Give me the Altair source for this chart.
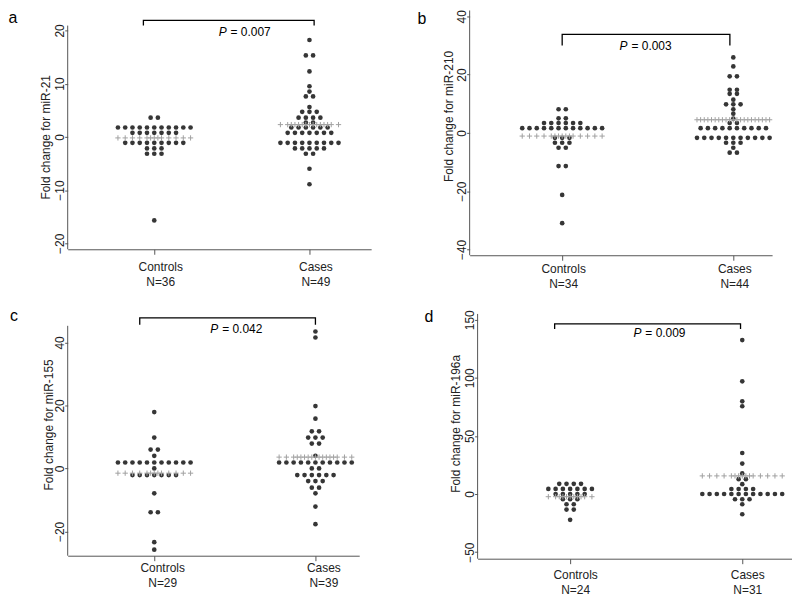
import altair as alt
import pandas as pd

# ------------------------------------------------------------------ data
GROUPS = ["Controls", "Cases"]
MIRNAS = ["miR-21", "miR-210", "miR-155", "miR-196a"]
LETTERS = ["a", "b", "c", "d"]
P_VALUES = ["0.007", "0.003", "0.042", "0.009"]

# panel a  (miR-21)
A_N = [36, 49]
A_CTRL_VALS = [3.6, 1.75, 0.75, -1.12, -2.18, -3.18, -15.7]
A_CTRL_COUNTS = [2, 11, 7, 9, 3, 3, 1]
A_CASE_VALS = [18.2, 15.3, 12.3, 9.5, 8.5, 7.6, 5.6, 4.7, 3.6, 2.7, 1.75, 0.75,
               -1.12, -2.18, -3.18, -6.0, -8.9]
A_CASE_COUNTS = [1, 2, 1, 1, 1, 2, 1, 3, 4, 2, 6, 7, 9, 5, 2, 1, 1]
A_MEANS = [-0.2, 2.3]
A_YTICKS = [-20, -10, 0, 10, 20]

# panel b  (miR-210)
B_N = [34, 44]
B_CTRL_VALS = [8.1, 5.0, 3.4, 1.6, -1.7, -3.4, -5.1, -11.4, -21.3, -31.0]
B_CTRL_COUNTS = [2, 2, 6, 12, 3, 3, 2, 2, 1, 1]
B_CASE_VALS = [25.9, 22.8, 19.4, 14.8, 13.4, 11.4, 9.8, 8.1, 6.6, 4.9, 3.4, 1.6,
               -1.7, -3.4, -5.1, -6.8]
B_CASE_COUNTS = [1, 1, 2, 2, 2, 1, 3, 1, 1, 1, 2, 10, 11, 3, 1, 2]
B_MEANS = [-1.1, 4.5]
B_YTICKS = [-40, -20, 0, 20, 40]

# panel c  (miR-155)
C_N = [29, 39]
C_CTRL_VALS = [17.9, 9.8, 6.0, 4.0, 1.9, 0.0, -2.1, -7.9, -13.9, -23.4, -25.8]
C_CTRL_COUNTS = [1, 1, 2, 1, 11, 1, 7, 1, 2, 1, 1]
C_CASE_VALS = [43.5, 41.6, 19.8, 15.8, 11.8, 9.8, 7.9, 4.0, 1.9, 0.0, -2.1, -4.0,
               -6.1, -7.9, -12.1, -17.7]
C_CASE_COUNTS = [1, 1, 1, 1, 2, 3, 2, 1, 11, 2, 6, 3, 2, 1, 1, 1]
C_MEANS = [-1.5, 3.6]
C_YTICKS = [-20, 0, 20, 40]

# panel d  (miR-196a)
D_N = [24, 31]
D_CTRL_VALS = [8.8, 4.4, 0.0, -4.4, -8.8, -13.4, -22.2]
D_CTRL_COUNTS = [4, 7, 5, 3, 2, 2, 1]
D_CASE_VALS = [132.5, 97.0, 79.8, 75.5, 35.3, 26.2, 17.7, 12.8, 8.5, 4.3, 0.0,
               -4.5, -8.8, -17.4]
D_CASE_COUNTS = [1, 1, 1, 1, 1, 1, 1, 2, 1, 4, 12, 3, 1, 1]
D_MEANS = [-2.3, 15.6]
D_YTICKS = [-50, 0, 50, 100, 150]

# significance brackets: (left x, right x, tick end y, bar y) in data units
A_BRACKET = [-0.07, 1.03, 20.9, 21.9]
B_BRACKET = [0.0, 0.98, 30.0, 33.8]
C_BRACKET = [-0.09, 1.0, 45.6, 47.8]
D_BRACKET = [-0.09, 0.99, 142.1, 146.4]
# P-value label anchor (x, y) in data units
A_P_AT = [0.466, 19.7]
B_P_AT = [0.382, 29.9]
C_P_AT = [0.397, 44.2]
D_P_AT = [0.414, 138.4]

# ------------------------------------------------------------------ layout / style
FONT = "Liberation Sans"
DOT_COLOR = "#363636"
PLUS_COLOR = "#a0a0a0"
AXIS_COLOR = "#555555"
DOT_SPACING_PX = 7.3
PLUS_PATH = "M-1,0L1,0M0,-1L0,1"

LAYOUT = {
    "a": dict(width=305, height=240, xdom=[-0.5577, 1.3974], ydom=[-21.12, 23.74],
              axis_top=20.9, letter=(-55, 8), title_xy=(-22, 127),
              label_offset=6, label_pad=7),
    "b": dict(width=304, height=246, xdom=[-0.5407, 1.2267], ydom=[-42.0, 42.0],
              axis_top=42.0, letter=(-48, 9), title_xy=(-21, 106),
              label_offset=1, label_pad=3),
    "c": dict(width=293, height=243, xdom=[-0.537, 1.2716], ydom=[-27.71, 49.07],
              axis_top=45.3, letter=(-54, 2), title_xy=(-19, 111),
              label_offset=8, label_pad=2),
    "d": dict(width=316, height=246, xdom=[-0.5376, 1.289], ydom=[-55.65, 154.97],
              axis_top=154.97, letter=(-49, 3), title_xy=(-22, 110),
              label_offset=5, label_pad=6),
}


def offsets(n):
    return [i - (n - 1) / 2 for i in range(n)]


def panel(letter, mirna, pval, ns, ctrl_vals, ctrl_counts, case_vals, case_counts,
          means, yticks, bracket, p_at):
    L = LAYOUT[letter]
    ppu = L["width"] / (L["xdom"][1] - L["xdom"][0])
    step = DOT_SPACING_PX / ppu

    dots, plus = [], []
    for gi, (vals, counts) in enumerate([(ctrl_vals, ctrl_counts), (case_vals, case_counts)]):
        used = set()
        for v, c in zip(vals, counts):
            for o in offsets(c):
                dots.append({"x": gi + o * step, "y": v})
                used.add(o)
        for o in sorted(used):
            plus.append({"x": gi + o * step, "y": means[gi]})
    dots = pd.DataFrame(dots)
    plus = pd.DataFrame(plus)

    label_expr = (f"datum.value == 0 ? ['{GROUPS[0]}', 'N={ns[0]}'] : "
                  f"['{GROUPS[1]}', 'N={ns[1]}']")
    X = alt.X("x:Q",
              scale=alt.Scale(domain=L["xdom"], nice=False, zero=False),
              axis=alt.Axis(values=[0, 1], labelExpr=label_expr, title=None,
                            tickSize=5, labelPadding=L["label_pad"],
                            labelOffset=L["label_offset"], labelLineHeight=15,
                            labelFlush=False, labelOverlap=False, grid=False))
    Y = alt.Y("y:Q",
              scale=alt.Scale(domain=L["ydom"], nice=False, zero=False),
              axis=alt.Axis(values=yticks, labelAngle=270, labelAlign="center",
                            labelBaseline="alphabetic", tickSize=3, labelPadding=1,
                            domain=False, grid=False, labelFlush=False,
                            labelOverlap=False,
                            title=f"Fold change for {mirna}", titleAngle=270,
                            titleX=L["title_xy"][0], titleY=L["title_xy"][1],
                            titleAlign="center", titleBaseline="middle"))

    axis_line = alt.Chart(pd.DataFrame({"y": [L["ydom"][0]], "y2": [L["axis_top"]]})
                          ).mark_rule(color=AXIS_COLOR, strokeWidth=1).encode(
        x=alt.value(0), y=Y, y2=alt.Y2("y2:Q"))

    dot_layer = alt.Chart(dots).mark_circle(size=22, color=DOT_COLOR, opacity=1).encode(x=X, y=Y)
    plus_layer = alt.Chart(plus).mark_point(shape=PLUS_PATH, filled=False, size=28,
                                            color=PLUS_COLOR, strokeWidth=1,
                                            opacity=1).encode(x=X, y=Y)

    x0, x1, ytick, ybar = bracket
    br = pd.DataFrame({"x": [x0, x0, x1, x1], "y": [ytick, ybar, ybar, ytick],
                       "o": [0, 1, 2, 3]})
    bracket_layer = alt.Chart(br).mark_line(color="black", strokeWidth=1.3).encode(
        x=X, y=Y, order="o:Q")

    pdf = pd.DataFrame({"x": [p_at[0]], "y": [p_at[1]]})
    p_italic = alt.Chart(pdf).mark_text(text="P", fontStyle="italic", align="right",
                                        baseline="middle", fontSize=12, font=FONT,
                                        color="black").encode(x=X, y=Y)
    p_value = alt.Chart(pdf).mark_text(text=f"= {pval}", align="left", dx=4,
                                       baseline="middle", fontSize=12, font=FONT,
                                       color="black").encode(x=X, y=Y)

    letter_layer = alt.Chart(pd.DataFrame({"t": [letter]})).mark_text(
        fontSize=16, font=FONT, align="center", baseline="middle", color="black"
    ).encode(x=alt.value(L["letter"][0]), y=alt.value(L["letter"][1]), text="t:N")

    return alt.layer(axis_line, dot_layer, plus_layer, bracket_layer, p_italic,
                     p_value, letter_layer).properties(width=L["width"], height=L["height"])


pa = panel("a", MIRNAS[0], P_VALUES[0], A_N, A_CTRL_VALS, A_CTRL_COUNTS, A_CASE_VALS,
           A_CASE_COUNTS, A_MEANS, A_YTICKS, A_BRACKET, A_P_AT)
pb = panel("b", MIRNAS[1], P_VALUES[1], B_N, B_CTRL_VALS, B_CTRL_COUNTS, B_CASE_VALS,
           B_CASE_COUNTS, B_MEANS, B_YTICKS, B_BRACKET, B_P_AT)
pc = panel("c", MIRNAS[2], P_VALUES[2], C_N, C_CTRL_VALS, C_CTRL_COUNTS, C_CASE_VALS,
           C_CASE_COUNTS, C_MEANS, C_YTICKS, C_BRACKET, C_P_AT)
pd_ = panel("d", MIRNAS[3], P_VALUES[3], D_N, D_CTRL_VALS, D_CTRL_COUNTS, D_CASE_VALS,
            D_CASE_COUNTS, D_MEANS, D_YTICKS, D_BRACKET, D_P_AT)

row1 = alt.hconcat(pa, pb, spacing=46)
row2 = alt.hconcat(pc, pd_, spacing=65)

chart = alt.vconcat(row1, row2, spacing=19).properties(padding=0).configure_view(
    stroke=None
).configure_axis(
    domainColor=AXIS_COLOR, tickColor=AXIS_COLOR, domainWidth=1, tickWidth=1,
    labelColor="#222222", titleColor="#222222", labelFont=FONT, titleFont=FONT,
    labelFontSize=12, titleFontSize=12, titleFontWeight="normal"
)

chart.save("out.html", embed_options={"renderer": "svg", "actions": False})
